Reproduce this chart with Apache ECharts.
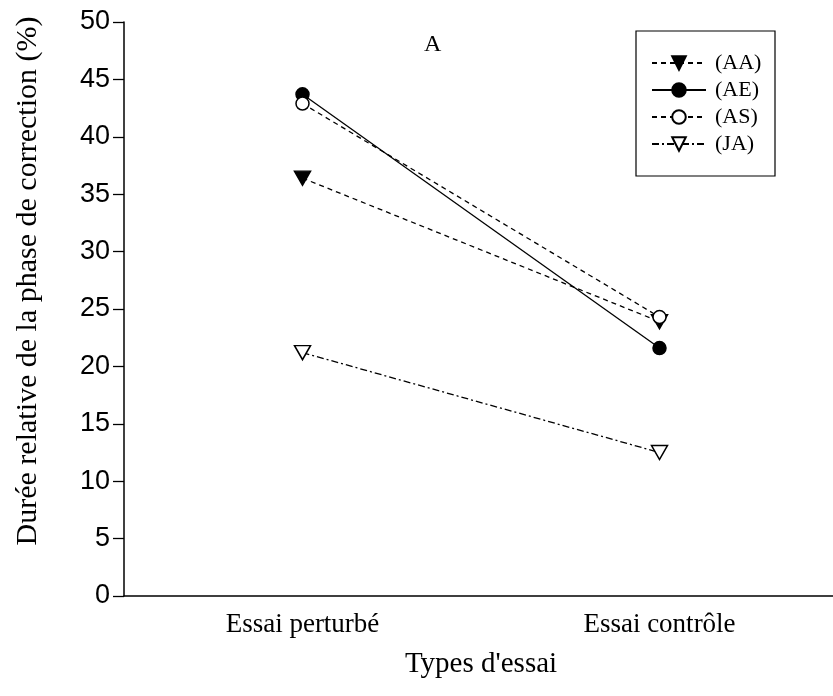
<!DOCTYPE html>
<html><head><meta charset="utf-8">
<script src="https://cdn.jsdelivr.net/npm/echarts@6/dist/echarts.min.js"></script>
<style>html,body{margin:0;padding:0;background:#fff}#c{width:833px;height:696px}</style>
</head><body><div id="c"></div>
<script>
const categories = ['Essai perturbé', 'Essai contrôle'];
const seriesNames = ['(AA)', '(AE)', '(AS)', '(JA)'];
const valuesAA = [36.4, 23.9];
const valuesAE = [43.7, 21.6];
const valuesAS = [42.9, 24.3];
const valuesJA = [21.2, 12.5];
const yTicks = [0, 5, 10, 15, 20, 25, 30, 35, 40, 45, 50];

const serif = '"Liberation Serif", "Times New Roman", serif';
const sans = '"Liberation Sans", Arial, sans-serif';

function mk(name, data, lineType, symbol, rotate, fill, size) {
  return {
    name, type: 'line', data,
    symbol, symbolRotate: rotate, symbolSize: size,
    lineStyle: { color: '#000', width: 1.3, type: lineType },
    itemStyle: { color: fill, borderColor: '#000', borderWidth: 1.5 },
    emphasis: { disabled: true },
    animation: false
  };
}

const chart = echarts.init(document.getElementById('c'), null, { renderer: 'canvas' });
chart.setOption({
  backgroundColor: '#fff',
  animation: false,
  grid: { left: 124, top: 22, width: 714, bottom: 100, containLabel: false, outerBoundsMode: 'none' },
  graphic: [
    { type: 'rect', shape: { x: 636, y: 31, width: 139, height: 145 },
      style: { fill: 'none', stroke: '#000', lineWidth: 1.2 }, z: 10 },
    { type: 'text', x: 424, y: 33,
      style: { text: 'A', font: '24px ' + serif, fill: '#000' } },
    { type: 'text', x: 28, y: 281, rotation: Math.PI / 2,
      style: { text: 'Durée relative de la phase de correction (%)', font: '30px ' + serif,
        fill: '#000', align: 'center', verticalAlign: 'middle' } }
  ],
  legend: {
    orient: 'vertical', left: 646, top: 47, itemGap: 5,
    itemWidth: 54, itemHeight: 17,
    textStyle: { fontFamily: serif, fontSize: 22, lineHeight: 22, color: '#000', padding: [0, 0, 0, 4] },
    data: seriesNames,
    selectedMode: false
  },
  xAxis: {
    type: 'category', data: categories, boundaryGap: true,
    name: "Types d'essai", nameLocation: 'middle', nameGap: 54,
    nameTextStyle: { fontFamily: serif, fontSize: 29, color: '#000' },
    axisLine: { lineStyle: { color: '#000', width: 1.5 } },
    axisTick: { alignWithLabel: true, length: 10, lineStyle: { color: '#000', width: 1.3 } },
    axisLabel: { fontFamily: serif, fontSize: 27, color: '#000', margin: 15 },
    splitLine: { show: false }
  },
  yAxis: {
    type: 'value', min: 0, max: 50, interval: 5,
    axisLine: { show: true, lineStyle: { color: '#000', width: 1.5 } },
    axisTick: { show: true, length: 11, lineStyle: { color: '#000', width: 1.3 } },
    axisLabel: { fontFamily: sans, fontSize: 27, color: '#000', margin: 14,
      formatter: v => yTicks.includes(v) ? String(v) : '' },
    splitLine: { show: false }
  },
  series: [
    mk(seriesNames[0], valuesAA, [5, 4], 'triangle', 180, '#000', [16, 14]),
    mk(seriesNames[1], valuesAE, 'solid', 'circle', 0, '#000', 13),
    mk(seriesNames[2], valuesAS, [5, 4], 'circle', 0, '#fff', 13),
    mk(seriesNames[3], valuesJA, [7, 3, 2, 3], 'triangle', 180, '#fff', [16, 14])
  ]
});
</script></body></html>
